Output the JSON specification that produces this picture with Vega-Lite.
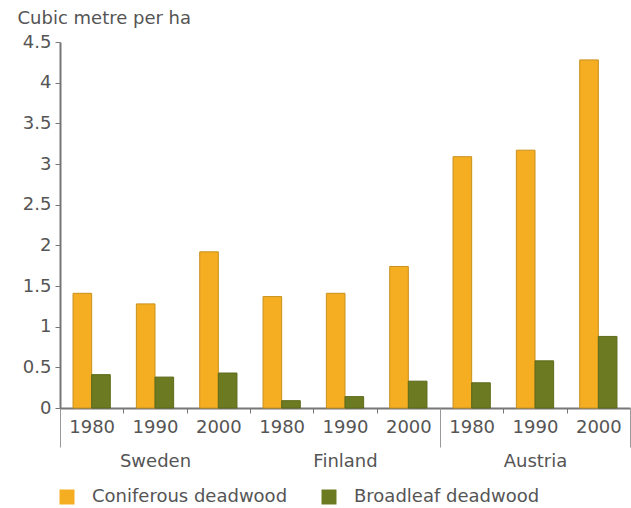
{
  "$schema": "https://vega.github.io/schema/vega-lite/v6.json",
  "width": 570,
  "height": 366,
  "autosize": "none",
  "padding": {"left": 60, "top": 42, "right": 1, "bottom": 100},
  "background": "white",
  "config": {"view": {"stroke": null}, "font": "DejaVu Sans"},
  "data": {"values": [
    {"country": "Sweden", "year": "1980", "group": "Sweden 1980", "type": "Coniferous deadwood", "value": 1.41},
    {"country": "Sweden", "year": "1980", "group": "Sweden 1980", "type": "Broadleaf deadwood", "value": 0.41},
    {"country": "Sweden", "year": "1990", "group": "Sweden 1990", "type": "Coniferous deadwood", "value": 1.28},
    {"country": "Sweden", "year": "1990", "group": "Sweden 1990", "type": "Broadleaf deadwood", "value": 0.38},
    {"country": "Sweden", "year": "2000", "group": "Sweden 2000", "type": "Coniferous deadwood", "value": 1.92},
    {"country": "Sweden", "year": "2000", "group": "Sweden 2000", "type": "Broadleaf deadwood", "value": 0.43},
    {"country": "Finland", "year": "1980", "group": "Finland 1980", "type": "Coniferous deadwood", "value": 1.37},
    {"country": "Finland", "year": "1980", "group": "Finland 1980", "type": "Broadleaf deadwood", "value": 0.09},
    {"country": "Finland", "year": "1990", "group": "Finland 1990", "type": "Coniferous deadwood", "value": 1.41},
    {"country": "Finland", "year": "1990", "group": "Finland 1990", "type": "Broadleaf deadwood", "value": 0.14},
    {"country": "Finland", "year": "2000", "group": "Finland 2000", "type": "Coniferous deadwood", "value": 1.74},
    {"country": "Finland", "year": "2000", "group": "Finland 2000", "type": "Broadleaf deadwood", "value": 0.33},
    {"country": "Austria", "year": "1980", "group": "Austria 1980", "type": "Coniferous deadwood", "value": 3.09},
    {"country": "Austria", "year": "1980", "group": "Austria 1980", "type": "Broadleaf deadwood", "value": 0.31},
    {"country": "Austria", "year": "1990", "group": "Austria 1990", "type": "Coniferous deadwood", "value": 3.17},
    {"country": "Austria", "year": "1990", "group": "Austria 1990", "type": "Broadleaf deadwood", "value": 0.58},
    {"country": "Austria", "year": "2000", "group": "Austria 2000", "type": "Coniferous deadwood", "value": 4.28},
    {"country": "Austria", "year": "2000", "group": "Austria 2000", "type": "Broadleaf deadwood", "value": 0.88}
  ]},
  "encoding": {
    "y": {
      "field": "value",
      "type": "quantitative",
      "scale": {"domain": [0, 4.5], "nice": false},
      "axis": {
        "title": "Cubic metre per ha",
        "titleAngle": 0,
        "titleAlign": "left",
        "titleBaseline": "middle",
        "titleX": -43,
        "titleY": -24,
        "titleFontWeight": "normal",
        "titleFontSize": 18,
        "titleColor": "#555555",
        "values": [0, 0.5, 1, 1.5, 2, 2.5, 3, 3.5, 4, 4.5],
        "format": "~g",
        "grid": false,
        "tickSize": 5,
        "labelPadding": 4,
        "labelFontSize": 18,
        "labelColor": "#555555",
        "domainColor": "#777777",
        "domainWidth": 2,
        "tickColor": "#777777"
      }
    }
  },
  "layer": [
    {
      "mark": {"type": "bar", "strokeWidth": 1},
      "encoding": {
        "x": {
          "field": "group",
          "type": "nominal",
          "sort": null,
          "scale": {"paddingInner": 0, "paddingOuter": 0},
          "axis": {
            "orient": "bottom",
            "title": null,
            "labelExpr": "slice(datum.label, -4)",
            "labelAngle": 0,
            "tickBand": "extent",
            "tickSize": 5,
            "labelPadding": 5,
            "labelFontSize": 18,
            "labelColor": "#555555",
            "domainColor": "#777777",
            "domainWidth": 2,
            "tickColor": "#777777"
          }
        },
        "xOffset": {
          "field": "type",
          "sort": ["Coniferous deadwood", "Broadleaf deadwood"],
          "scale": {"paddingInner": 0, "paddingOuter": 0.7}
        },
        "color": {
          "field": "type",
          "type": "nominal",
          "scale": {"domain": ["Coniferous deadwood", "Broadleaf deadwood"], "range": ["#F5AE22", "#6C7A21"]},
          "legend": {
            "orient": "none",
            "legendX": -2,
            "legendY": 446,
            "direction": "horizontal",
            "title": null,
            "symbolType": "square",
            "symbolSize": 225,
            "symbolStrokeWidth": 0,
            "labelFontSize": 18,
            "labelColor": "#555555",
            "labelOffset": 16,
            "labelLimit": 400,
            "columnPadding": 32
          }
        },
        "stroke": {
          "field": "type",
          "type": "nominal",
          "scale": {"domain": ["Coniferous deadwood", "Broadleaf deadwood"], "range": ["#C8901C", "#5D6A1A"]},
          "legend": null
        }
      }
    },
    {
      "mark": {"type": "bar", "opacity": 0},
      "encoding": {
        "x": {
          "field": "country",
          "type": "nominal",
          "sort": ["Sweden", "Finland", "Austria"],
          "scale": {"paddingInner": 0, "paddingOuter": 0},
          "axis": {
            "orient": "bottom",
            "title": null,
            "domain": false,
            "labelAngle": 0,
            "tickBand": "extent",
            "tickSize": 39,
            "labelPadding": 5,
            "labelFontSize": 18,
            "labelColor": "#555555",
            "tickColor": "#999999",
            "tickOpacity": {"condition": {"test": "datum.value === 'Sweden'", "value": 0}, "value": 1}
          }
        }
      }
    }
  ],
  "resolve": {"scale": {"x": "independent", "xOffset": "independent"}}
}
